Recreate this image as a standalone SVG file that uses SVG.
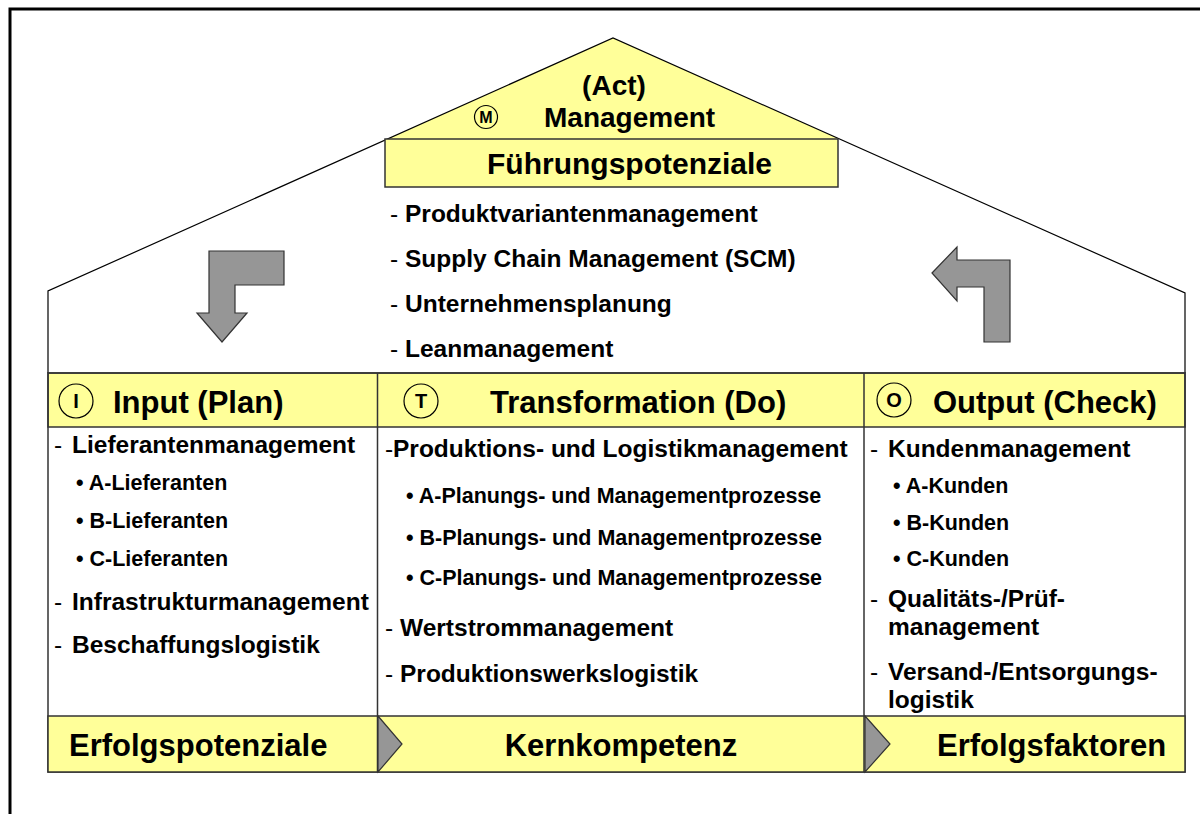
<svg xmlns="http://www.w3.org/2000/svg" width="1200" height="814" viewBox="0 0 1200 814">
<style>
text{font-family:"Liberation Sans",Arial,sans-serif;font-weight:bold;fill:#000}
.n{font-weight:normal}
.t1{font-size:28px}
.t3{font-size:30px}
.hd{font-size:31px}
.it{font-size:24.5px}
.sb{font-size:21.5px}
.bd{font-size:31px}
.cm{font-size:16px}
.cl{font-size:20px}
.yel{fill:#FFFF99;stroke:#333;stroke-width:1.5}
.ln{fill:none;stroke:#333;stroke-width:1.5}
.roof{fill:none;stroke:#000;stroke-width:1.2}
.circ{fill:none;stroke:#000;stroke-width:1.2}
.arr{fill:#969696;stroke:#333;stroke-width:1.2}
</style>
<rect width="1200" height="814" fill="#fff"/>
<path d="M10,814 L10,9 L1200,9" fill="none" stroke="#000" stroke-width="3"/>

<g id="roof">
<polygon points="613,38 388,139 839,139" fill="#FFFF99"/>
<polyline class="roof" points="48,373 48,291 613,38 1185,293 1185,373"/>
</g>

<g id="management">
<text class="t1" x="614" y="95" text-anchor="middle">(Act)</text>
<circle class="circ" cx="486" cy="117" r="11.5"/>
<text class="cm" x="486" y="123" text-anchor="middle">M</text>
<text class="t1" x="544" y="127">Management</text>
<rect class="yel" x="385" y="139" width="453" height="48"/>
<text class="t3" x="487" y="174">Führungspotenziale</text>
</g>

<g id="management-list">
<text class="it" y="222"><tspan class="n" x="390">-</tspan><tspan x="405">Produktvariantenmanagement</tspan></text>
<text class="it" y="267"><tspan class="n" x="390">-</tspan><tspan x="405">Supply Chain Management (SCM)</tspan></text>
<text class="it" y="312"><tspan class="n" x="390">-</tspan><tspan x="405">Unternehmensplanung</tspan></text>
<text class="it" y="357"><tspan class="n" x="390">-</tspan><tspan x="405">Leanmanagement</tspan></text>
</g>

<g id="table">
<rect class="yel" x="48" y="373" width="1137" height="54"/>
<rect class="ln" x="48" y="373" width="1137" height="399"/>
<rect class="yel" x="48" y="716" width="1137" height="56"/>
<line class="ln" x1="377.5" y1="373" x2="377.5" y2="772"/>
<line class="ln" x1="864" y1="373" x2="864" y2="772"/>
</g>

<g id="input">
<circle class="circ" cx="76" cy="401" r="17"/>
<text class="cl" x="76" y="408" text-anchor="middle">I</text>
<text class="hd" x="113" y="413">Input (Plan)</text>
<text class="it" y="453"><tspan class="n" x="54">-</tspan><tspan x="72">Lieferantenmanagement</tspan></text>
<text class="sb" x="76" y="490">• A-Lieferanten</text>
<text class="sb" x="76" y="528">• B-Lieferanten</text>
<text class="sb" x="76" y="566">• C-Lieferanten</text>
<text class="it" y="610"><tspan class="n" x="54">-</tspan><tspan x="72">Infrastrukturmanagement</tspan></text>
<text class="it" y="653"><tspan class="n" x="54">-</tspan><tspan x="72">Beschaffungslogistik</tspan></text>
<text class="bd" x="69" y="756">Erfolgspotenziale</text>
</g>

<g id="transformation">
<circle class="circ" cx="421" cy="401" r="17"/>
<text class="cl" x="421" y="408" text-anchor="middle">T</text>
<text class="hd" x="490" y="413">Transformation (Do)</text>
<text class="it" y="457"><tspan class="n" x="385">-</tspan><tspan x="393">Produktions- und Logistikmanagement</tspan></text>
<text class="sb" x="406" y="503">• A-Planungs- und Managementprozesse</text>
<text class="sb" x="406" y="545">• B-Planungs- und Managementprozesse</text>
<text class="sb" x="406" y="585">• C-Planungs- und Managementprozesse</text>
<text class="it" y="636"><tspan class="n" x="385">-</tspan><tspan x="400">Wertstrommanagement</tspan></text>
<text class="it" y="682"><tspan class="n" x="385">-</tspan><tspan x="400">Produktionswerkslogistik</tspan></text>
<text class="bd" x="621" y="756" text-anchor="middle">Kernkompetenz</text>
</g>

<g id="output">
<circle class="circ" cx="894" cy="400" r="17"/>
<text class="cl" x="894" y="407" text-anchor="middle">O</text>
<text class="hd" x="933" y="413">Output (Check)</text>
<text class="it" y="457"><tspan class="n" x="870">-</tspan><tspan x="888">Kundenmanagement</tspan></text>
<text class="sb" x="893" y="493">• A-Kunden</text>
<text class="sb" x="893" y="530">• B-Kunden</text>
<text class="sb" x="893" y="566">• C-Kunden</text>
<text class="it" y="607"><tspan class="n" x="870">-</tspan><tspan x="888">Qualitäts-/Prüf-</tspan></text>
<text class="it" x="888" y="635">management</text>
<text class="it" y="680"><tspan class="n" x="870">-</tspan><tspan x="888">Versand-/Entsorgungs-</tspan></text>
<text class="it" x="888" y="708">logistik</text>
<text class="bd" x="937" y="756">Erfolgsfaktoren</text>
</g>

<g id="connectors">
<polygon class="arr" points="209,251 284,251 284,285 235,285 235,313 247,313 222,342 197,313 209,313"/>
<polygon class="arr" points="932,273 957,247 957,260 1010,260 1010,342 984,342 984,287 957,287 957,301"/>
<polygon class="arr" points="378,716 402,744 378,772"/>
<polygon class="arr" points="865,716 890,744 865,772"/>
</g>
</svg>
